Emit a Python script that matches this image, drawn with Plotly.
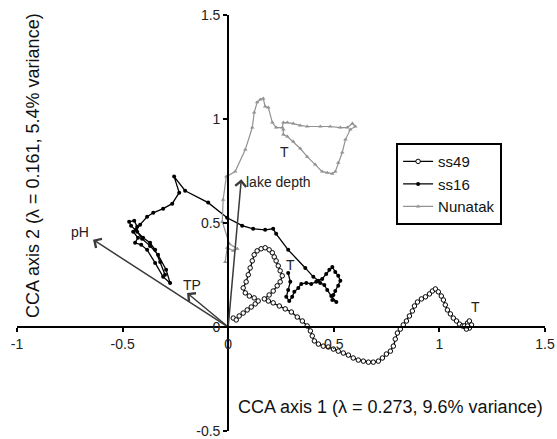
import plotly.graph_objects as go

# CCA site scores (axis 1, axis 2) for the three core trajectories
ss49_x = [0.024, 0.038, 0.052, 0.071, 0.090, 0.109, 0.128, 0.142, 0.123, 0.100, 0.081, 0.071,
          0.085, 0.095, 0.104, 0.114, 0.123, 0.137, 0.156, 0.175, 0.194, 0.209, 0.218, 0.227,
          0.237, 0.246, 0.256, 0.246, 0.232, 0.213, 0.194, 0.171, 0.190, 0.213, 0.242, 0.270,
          0.299, 0.327, 0.351, 0.374, 0.389, 0.398, 0.408, 0.427, 0.450, 0.474, 0.498, 0.521,
          0.545, 0.569, 0.592, 0.616, 0.640, 0.664, 0.687, 0.711, 0.730, 0.749, 0.768, 0.782,
          0.791, 0.801, 0.815, 0.829, 0.844, 0.858, 0.872, 0.882, 0.896, 0.915, 0.934, 0.953,
          0.967, 0.981, 0.995, 1.009, 1.019, 1.028, 1.038, 1.052, 1.066, 1.081, 1.095, 1.109,
          1.123, 1.133, 1.142, 1.152, 1.142, 1.128, 1.118, 1.133]
ss49_y = [0.043, 0.034, 0.053, 0.067, 0.082, 0.096, 0.111, 0.125, 0.140, 0.149, 0.164, 0.188,
          0.217, 0.251, 0.284, 0.318, 0.347, 0.366, 0.376, 0.381, 0.371, 0.357, 0.337, 0.318,
          0.294, 0.270, 0.246, 0.217, 0.198, 0.173, 0.154, 0.135, 0.125, 0.116, 0.101, 0.087,
          0.072, 0.048, 0.029, 0.005, -0.019, -0.043, -0.067, -0.082, -0.092, -0.096, -0.106, -0.116,
          -0.125, -0.135, -0.149, -0.159, -0.164, -0.169, -0.169, -0.164, -0.149, -0.130, -0.116, -0.092,
          -0.058, -0.029, -0.010, 0.010, 0.029, 0.053, 0.077, 0.101, 0.120, 0.135, 0.145, 0.159,
          0.173, 0.183, 0.169, 0.149, 0.130, 0.106, 0.082, 0.063, 0.043, 0.029, 0.014, 0.005,
          0.000, 0.019, 0.029, 0.010, -0.005, -0.010, 0.005, 0.005]

ss16_x = [-0.299, -0.322, -0.346, -0.370, -0.403, -0.431, -0.460, -0.469, -0.445, -0.431,
          -0.450, -0.427, -0.441, -0.412, -0.384, -0.346, -0.308, -0.275, -0.294, -0.332,
          -0.370, -0.408, -0.436, -0.417, -0.384, -0.355, -0.308, -0.265, -0.232, -0.256,
          -0.204, -0.095, -0.005, 0.066, 0.118, 0.175, 0.213, 0.227, 0.284, 0.365,
          0.403, 0.427, 0.445, 0.464, 0.479, 0.493, 0.507, 0.521, 0.531, 0.521,
          0.507, 0.498, 0.493, 0.512, 0.488, 0.469, 0.455, 0.436, 0.417, 0.393,
          0.370, 0.346, 0.332, 0.313, 0.303, 0.289, 0.275, 0.284, 0.294, 0.284]
ss16_y = [0.251, 0.313, 0.371, 0.405, 0.429, 0.458, 0.487, 0.506, 0.511, 0.482,
          0.458, 0.429, 0.405, 0.395, 0.371, 0.308, 0.241, 0.212, 0.275, 0.347,
          0.390, 0.424, 0.467, 0.492, 0.530, 0.549, 0.569, 0.593, 0.646, 0.723,
          0.655, 0.598, 0.525, 0.487, 0.472, 0.467, 0.472, 0.448, 0.371, 0.284,
          0.241, 0.222, 0.231, 0.255, 0.275, 0.289, 0.265, 0.246, 0.222, 0.198,
          0.173, 0.154, 0.130, 0.120, 0.149, 0.178, 0.202, 0.212, 0.217, 0.207,
          0.212, 0.207, 0.188, 0.169, 0.145, 0.125, 0.145, 0.178, 0.217, 0.260]

nunatak_x = [-0.014, -0.005, 0.024, 0.043, 0.005, -0.028, -0.024, -0.009, 0.033, 0.081,
             0.114, 0.123, 0.137, 0.152, 0.166, 0.175, 0.190, 0.209, 0.227, 0.256,
             0.261, 0.280, 0.308, 0.341, 0.374, 0.436, 0.483, 0.531, 0.564, 0.588,
             0.602, 0.578, 0.555, 0.540, 0.521, 0.507, 0.493, 0.469, 0.445, 0.412,
             0.374, 0.341, 0.308, 0.280, 0.261, 0.261]
nunatak_y = [0.313, 0.381, 0.366, 0.376, 0.400, 0.506, 0.612, 0.723, 0.747, 0.853,
             0.959, 1.031, 1.080, 1.094, 1.099, 1.060, 1.055, 0.983, 0.959, 0.959,
             0.983, 0.983, 0.978, 0.969, 0.964, 0.964, 0.964, 0.959, 0.959, 0.978,
             0.964, 0.949, 0.901, 0.839, 0.790, 0.747, 0.737, 0.742, 0.747, 0.781,
             0.819, 0.858, 0.892, 0.916, 0.925, 0.949]

# Environmental variable biplot arrows
env_names = ["pH", "TP", "lake depth"]
env_x = [-0.64, -0.195, 0.062]
env_y = [0.42, 0.164, 0.71]
env_label_x = [-0.70, -0.17, 0.076]
env_label_y = [0.458, 0.202, 0.699]

# "T" (top of core) markers
top_x = [1.171, 0.294, 0.265]
top_y = [0.096, 0.299, 0.843]

x_ticks = [-1, -0.5, 0, 0.5, 1, 1.5]
y_ticks = [-0.5, 0, 0.5, 1, 1.5]
x_range = [-1, 1.5]
y_range = [-0.5, 1.5]

FONT = "Liberation Sans, Arial, sans-serif"

fig = go.Figure()
fig.add_trace(go.Scatter(
    x=ss49_x, y=ss49_y, name="ss49", mode="lines+markers",
    line=dict(color="black", width=1.3),
    marker=dict(symbol="circle", size=4.5, color="white", line=dict(color="black", width=1)),
))
fig.add_trace(go.Scatter(
    x=ss16_x, y=ss16_y, name="ss16", mode="lines+markers",
    line=dict(color="black", width=1.3),
    marker=dict(symbol="circle", size=4, color="black"),
))
fig.add_trace(go.Scatter(
    x=nunatak_x, y=nunatak_y, name="Nunatak", mode="lines+markers",
    line=dict(color="#929292", width=1.2),
    marker=dict(symbol="triangle-up", size=4, color="#929292"),
))

annotations = []
for name, ex, ey, lx, ly in zip(env_names, env_x, env_y, env_label_x, env_label_y):
    annotations.append(dict(
        x=ex, y=ey, ax=0, ay=0, xref="x", yref="y", axref="x", ayref="y",
        showarrow=True, arrowhead=4, arrowsize=1.4, arrowwidth=1.5, arrowcolor="#3a3a3a",
        text="",
    ))
    annotations.append(dict(
        x=lx, y=ly, xref="x", yref="y", text=name, showarrow=False,
        xanchor="left" if name == "lake depth" else "center", yanchor="middle",
        font=dict(family=FONT, size=14, color="#222"),
    ))
for tx, ty in zip(top_x, top_y):
    annotations.append(dict(
        x=tx, y=ty, xref="x", yref="y", text="T", showarrow=False,
        xanchor="center", yanchor="middle",
        font=dict(family=FONT, size=14, color="#222"),
    ))

annotations.append(dict(
    x=0.708, y=0.058, xref="paper", yref="paper", showarrow=False,
    xanchor="center", yanchor="middle",
    text="CCA axis 1 (λ = 0.273, 9.6% variance)",
    font=dict(family=FONT, size=18, color="#111"),
))
annotations.append(dict(
    x=0.030, y=0.639, xref="paper", yref="paper", showarrow=False, textangle=-90,
    xanchor="center", yanchor="middle",
    text="CCA axis 2 (λ = 0.161, 5.4% variance)",
    font=dict(family=FONT, size=18, color="#111"),
))

fig.update_layout(
    width=557, height=439,
    margin=dict(l=17, r=12, t=15, b=8, pad=0),
    paper_bgcolor="white", plot_bgcolor="white",
    font=dict(family=FONT, size=14, color="#222"),
    showlegend=True,
    legend=dict(
        x=0.718, y=0.692, xanchor="left", yanchor="top",
        bordercolor="black", borderwidth=2, bgcolor="white",
        font=dict(family=FONT, size=15, color="#111"),
        tracegroupgap=0,
    ),
    annotations=annotations,
    xaxis=dict(
        range=x_range, tickvals=x_ticks, ticktext=[f"{v:g}" for v in x_ticks],
        showgrid=False, zeroline=False, showline=True, linecolor="black", linewidth=2,
        ticks="outside", ticklen=4, tickwidth=1.5, tickcolor="black",
        anchor="free", position=0.25, tickfont=dict(size=14), automargin=False,
    ),
    yaxis=dict(
        range=y_range, tickvals=y_ticks, ticktext=[f"{v:g}" for v in y_ticks],
        showgrid=False, zeroline=False, showline=True, linecolor="black", linewidth=2,
        ticks="outside", ticklen=4, tickwidth=1.5, tickcolor="black",
        anchor="free", position=0.4, tickfont=dict(size=14), automargin=False,
    ),
)

fig.write_html("out.html")
